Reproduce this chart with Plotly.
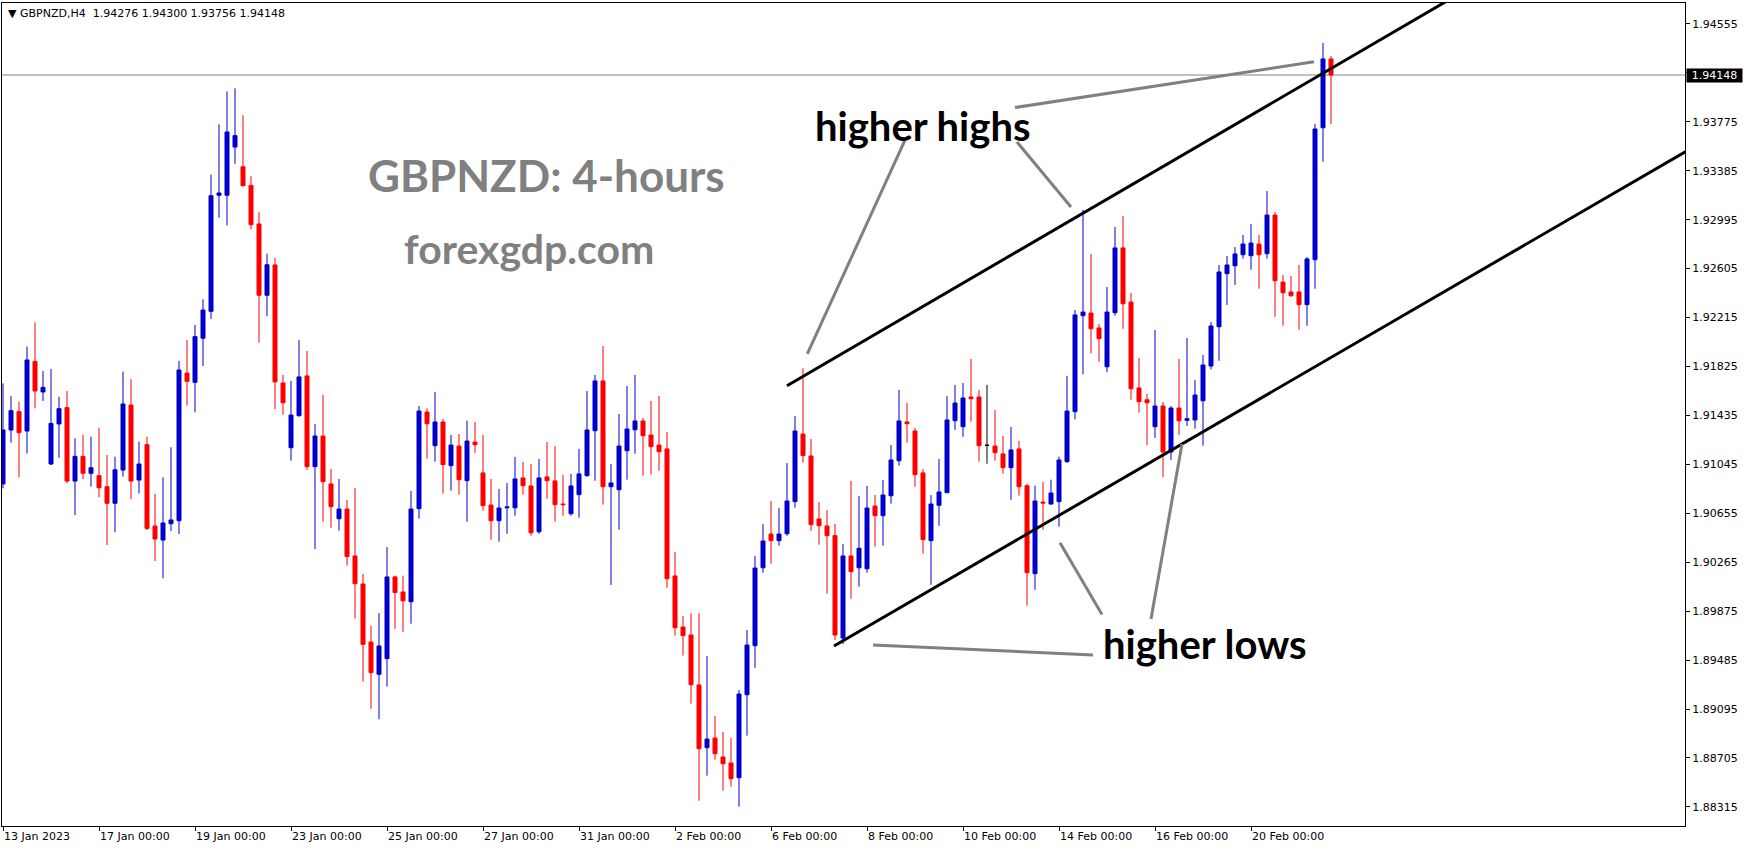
import plotly.graph_objects as go
import pandas as pd

symbol = "GBPNZD"
timeframe = "H4"

trading_days = [
    "2023-01-13", "2023-01-16", "2023-01-17", "2023-01-18", "2023-01-19", "2023-01-20",
    "2023-01-23", "2023-01-24", "2023-01-25", "2023-01-26", "2023-01-27",
    "2023-01-30", "2023-01-31", "2023-02-01", "2023-02-02", "2023-02-03",
    "2023-02-06", "2023-02-07", "2023-02-08", "2023-02-09", "2023-02-10",
    "2023-02-13", "2023-02-14", "2023-02-15", "2023-02-16", "2023-02-17",
    "2023-02-20", "2023-02-21",
]
bar_hours = [0, 4, 8, 12, 16, 20]

opens = [
    1.90889, 1.91319, 1.91465, 1.91311, 1.91866, 1.91622, 1.91048, 1.91367, 1.91497, 1.90912,
    1.91109, 1.90974, 1.90955, 1.90867, 1.90735, 1.91000, 1.91518, 1.90920, 1.91202, 1.90554,
    1.90442, 1.90572, 1.90596, 1.91773, 1.91699, 1.92050, 1.92265, 1.93190, 1.93190, 1.93574,
    1.93417, 1.93269, 1.92961, 1.92393, 1.92634, 1.91694, 1.91178, 1.91433, 1.91750, 1.91027,
    1.91271, 1.90889, 1.90612, 1.90689, 1.90315, 1.90092, 1.89629, 1.89372, 1.89497, 1.90148,
    1.90028, 1.89950, 1.90692, 1.91462, 1.91194, 1.91383, 1.91035, 1.91191, 1.90915, 1.91223,
    1.90977, 1.90721, 1.90596, 1.90699, 1.90699, 1.90937, 1.90873, 1.90508, 1.90945, 1.90913,
    1.90729, 1.90652, 1.90804, 1.90955, 1.91313, 1.91710, 1.90867, 1.90843, 1.91154, 1.91321,
    1.91391, 1.91279, 1.91199, 1.91168, 1.90156, 1.89749, 1.89685, 1.89287, 1.88787, 1.88864,
    1.88713, 1.88665, 1.88548, 1.89209, 1.89600, 1.90221, 1.90490, 1.90437, 1.90492, 1.90748,
    1.91287, 1.91112, 1.90610, 1.90554, 1.90477, 1.89661, 1.90315, 1.90221, 1.90213, 1.90713,
    1.90636, 1.90795, 1.91074, 1.91383, 1.91311, 1.90977, 1.90437, 1.90719, 1.90819, 1.91393,
    1.91345, 1.91582, 1.91582, 1.91197, 1.91191, 1.91128, 1.91019, 1.91168, 1.90875, 1.90174,
    1.90745, 1.90729, 1.90748, 1.91067, 1.91465, 1.92230, 1.92251, 1.92132, 1.91823, 1.92254,
    1.92770, 1.92339, 1.91654, 1.91560, 1.91345, 1.91510, 1.91144, 1.91494, 1.91396, 1.91399,
    1.91552, 1.91829, 1.92142, 1.92565, 1.92628, 1.92716, 1.92708, 1.92801, 1.92724, 1.93032,
    1.92498, 1.92419, 1.92419, 1.92318, 1.92676, 1.93728, 1.94276,
]
highs = [
    1.91691, 1.91590, 1.91545, 1.91983, 1.92177, 1.91789, 1.91805, 1.91584, 1.91630, 1.91253,
    1.91281, 1.91266, 1.91337, 1.91120, 1.91106, 1.91784, 1.91723, 1.91226, 1.91266, 1.90809,
    1.90942, 1.91181, 1.91869, 1.92036, 1.92156, 1.92361, 1.93354, 1.93755, 1.94018, 1.94042,
    1.93827, 1.93341, 1.93054, 1.92724, 1.92690, 1.91758, 1.91710, 1.92036, 1.91949, 1.91367,
    1.91598, 1.91009, 1.90929, 1.90761, 1.90857, 1.90172, 1.89759, 1.89860, 1.90386, 1.90158,
    1.90158, 1.90833, 1.91510, 1.91492, 1.91622, 1.91407, 1.91279, 1.91287, 1.91393, 1.91383,
    1.91279, 1.90929, 1.90849, 1.90897, 1.91104, 1.91064, 1.91049, 1.91088, 1.91223, 1.91191,
    1.90961, 1.90969, 1.91168, 1.91630, 1.91758, 1.91988, 1.91049, 1.91446, 1.91670, 1.91758,
    1.91415, 1.91550, 1.91590, 1.91303, 1.90347, 1.89836, 1.89860, 1.89860, 1.89518, 1.89040,
    1.88912, 1.88864, 1.89247, 1.89725, 1.90315, 1.90570, 1.90753, 1.90697, 1.91056, 1.91431,
    1.91811, 1.91247, 1.90745, 1.90681, 1.90570, 1.90410, 1.90913, 1.90793, 1.90873, 1.90801,
    1.90921, 1.91199, 1.91638, 1.91534, 1.91335, 1.91008, 1.90801, 1.91088, 1.91590, 1.91678,
    1.91694, 1.91885, 1.91638, 1.91678, 1.91478, 1.91271, 1.91343, 1.91231, 1.90891, 1.90875,
    1.90905, 1.90923, 1.91106, 1.91750, 1.92275, 1.93072, 1.92722, 1.92164, 1.92459, 1.92937,
    1.93025, 1.92411, 1.91893, 1.91608, 1.92116, 1.91542, 1.91510, 1.91885, 1.92052, 1.91717,
    1.91917, 1.92180, 1.92634, 1.92706, 1.92777, 1.92873, 1.92961, 1.92873, 1.93224, 1.93056,
    1.92554, 1.92546, 1.92634, 1.92698, 1.93758, 1.94403, 1.94300,
]
lows = [
    1.90854, 1.91218, 1.90942, 1.91133, 1.91492, 1.91550, 1.91040, 1.91098, 1.90894, 1.90641,
    1.90928, 1.90867, 1.90782, 1.90402, 1.90504, 1.90947, 1.90767, 1.90814, 1.90522, 1.90275,
    1.90137, 1.90514, 1.90490, 1.91513, 1.91460, 1.91829, 1.92204, 1.93011, 1.92950, 1.93441,
    1.93258, 1.92918, 1.92015, 1.92225, 1.91486, 1.91441, 1.91075, 1.91425, 1.91001, 1.90370,
    1.90588, 1.90540, 1.90516, 1.90238, 1.89815, 1.89313, 1.89098, 1.89013, 1.89274, 1.89735,
    1.89711, 1.89775, 1.90612, 1.91091, 1.91067, 1.90812, 1.90836, 1.90804, 1.90588, 1.91138,
    1.90676, 1.90445, 1.90429, 1.90492, 1.90636, 1.90804, 1.90476, 1.90492, 1.90771, 1.90588,
    1.90636, 1.90636, 1.90620, 1.90947, 1.90915, 1.90724, 1.90084, 1.90524, 1.90923, 1.91130,
    1.90955, 1.90963, 1.90995, 1.90062, 1.89680, 1.89521, 1.89138, 1.88364, 1.88564, 1.88691,
    1.88444, 1.88476, 1.88317, 1.88883, 1.89424, 1.90182, 1.90254, 1.90397, 1.90476, 1.90700,
    1.91059, 1.90516, 1.90405, 1.90014, 1.89645, 1.89613, 1.89974, 1.90070, 1.90182, 1.90389,
    1.90397, 1.90732, 1.91034, 1.91218, 1.90867, 1.90333, 1.90086, 1.90556, 1.90819, 1.91321,
    1.91265, 1.91385, 1.91067, 1.91050, 1.91075, 1.90971, 1.90763, 1.90796, 1.89919, 1.90046,
    1.90524, 1.90724, 1.90548, 1.91056, 1.91404, 1.91763, 1.91930, 1.91863, 1.91779, 1.92230,
    1.92126, 1.91560, 1.91457, 1.91199, 1.91257, 1.90944, 1.91080, 1.91279, 1.91351, 1.91329,
    1.91194, 1.91803, 1.91871, 1.92315, 1.92475, 1.92684, 1.92597, 1.92445, 1.92684, 1.92222,
    1.92150, 1.92381, 1.92118, 1.92150, 1.92445, 1.93457, 1.93756,
]
closes = [
    1.91319, 1.91473, 1.91297, 1.91877, 1.91630, 1.91659, 1.91372, 1.91489, 1.90912, 1.91109,
    1.90974, 1.91018, 1.90859, 1.90735, 1.91002, 1.91526, 1.90912, 1.91048, 1.90535, 1.90450,
    1.90578, 1.90602, 1.91797, 1.91707, 1.92063, 1.92275, 1.93186, 1.93208, 1.93694, 1.93665,
    1.93266, 1.92955, 1.92393, 1.92636, 1.91702, 1.91536, 1.91438, 1.91742, 1.91027, 1.91271,
    1.90907, 1.90708, 1.90689, 1.90310, 1.90094, 1.89611, 1.89385, 1.89598, 1.90148, 1.90023,
    1.89958, 1.90689, 1.91470, 1.91369, 1.91383, 1.91043, 1.91199, 1.90923, 1.91231, 1.91202,
    1.90716, 1.90596, 1.90697, 1.90705, 1.90929, 1.90875, 1.90500, 1.90937, 1.90915, 1.90724,
    1.90724, 1.90873, 1.90969, 1.91319, 1.91710, 1.90867, 1.90897, 1.91191, 1.91327, 1.91391,
    1.91273, 1.91186, 1.91146, 1.90134, 1.89743, 1.89680, 1.89289, 1.88779, 1.88856, 1.88739,
    1.88659, 1.88540, 1.89215, 1.89605, 1.90219, 1.90434, 1.90437, 1.90490, 1.90753, 1.91311,
    1.91115, 1.90564, 1.90556, 1.90477, 1.89685, 1.90315, 1.90190, 1.90376, 1.90697, 1.90636,
    1.90801, 1.91080, 1.91391, 1.91369, 1.90963, 1.90445, 1.90729, 1.90825, 1.91399, 1.91534,
    1.91574, 1.91568, 1.91194, 1.91197, 1.91138, 1.91019, 1.91160, 1.90867, 1.90182, 1.90753,
    1.90737, 1.90817, 1.91080, 1.91470, 1.92236, 1.92259, 1.92126, 1.92047, 1.92259, 1.92770,
    1.92325, 1.91648, 1.91544, 1.91536, 1.91510, 1.91144, 1.91494, 1.91393, 1.91409, 1.91598,
    1.91837, 1.92148, 1.92578, 1.92634, 1.92722, 1.92801, 1.92809, 1.92716, 1.93032, 1.92509,
    1.92413, 1.92389, 1.92318, 1.92682, 1.93718, 1.94276, 1.94148,
]

tick_dates = ["2023-01-13", "2023-01-17", "2023-01-19", "2023-01-23", "2023-01-25",
              "2023-01-27", "2023-01-31", "2023-02-02", "2023-02-06", "2023-02-08",
              "2023-02-10", "2023-02-14", "2023-02-16", "2023-02-20"]
price_ticks_start = 1.88315
price_ticks_step = 0.0039

# hand-drawn objects (time, price)
upper_channel_t = ["2023-02-06 08:00", "2023-02-24 04:00"]
upper_channel_p = [1.91672, 1.94757]
lower_channel_t = ["2023-02-07 07:30", "2023-03-03 01:30"]
lower_channel_p = [1.89597, 1.93540]
hh_left_t = ["2023-02-08 19:00", "2023-02-06 18:10"]
hh_left_p = [1.93630, 1.91925]
hh_mid_t = ["2023-02-13 03:00", "2023-02-14 06:00"]
hh_mid_p = [1.93614, 1.93096]
hh_right_t = ["2023-02-13 02:00", "2023-02-21 07:30"]
hh_right_p = [1.93889, 1.94254]
hl_mid_t = ["2023-02-14 00:30", "2023-02-14 21:30"]
hl_mid_p = [1.90421, 1.89848]
hl_right_t = ["2023-02-16 13:30", "2023-02-15 22:00"]
hl_right_p = [1.91207, 1.89812]
hl_left_t = ["2023-02-08 03:00", "2023-02-14 17:00"]
hl_left_p = [1.89605, 1.89526]

n = len(opens)
times = [pd.Timestamp(d) + pd.Timedelta(hours=h) for d in trading_days for h in bar_hours][:n]
df = pd.DataFrame({"t": times, "o": opens, "h": highs, "l": lows, "c": closes})
main = df[df.o != df.c]
doji = df[df.o == df.c]

BLUE = "#0000CC"
RED = "#FF0000"
AXFONT = dict(family="DejaVu Sans", size=11, color="black")

fig = go.Figure()
fig.add_trace(go.Candlestick(
    x=main.t, open=main.o, high=main.h, low=main.l, close=main.c,
    increasing=dict(line=dict(color=BLUE, width=1), fillcolor=BLUE),
    decreasing=dict(line=dict(color=RED, width=1), fillcolor=RED),
    hoverinfo="skip", showlegend=False,
))
fig.add_trace(go.Candlestick(
    x=doji.t, open=doji.o, high=doji.h, low=doji.l, close=doji.c,
    increasing=dict(line=dict(color="black", width=1), fillcolor="black"),
    decreasing=dict(line=dict(color="black", width=1), fillcolor="black"),
    hoverinfo="skip", showlegend=False,
))

def add_line(ts, ps, color, width):
    fig.add_trace(go.Scatter(x=pd.to_datetime(ts), y=ps, mode="lines",
                             line=dict(color=color, width=width),
                             hoverinfo="skip", showlegend=False))

add_line(upper_channel_t, upper_channel_p, "black", 3)
add_line(lower_channel_t, lower_channel_p, "black", 3)
GRAY = "#808080"
for ts, ps in [(hh_left_t, hh_left_p), (hh_mid_t, hh_mid_p), (hh_right_t, hh_right_p),
               (hl_mid_t, hl_mid_p), (hl_right_t, hl_right_p), (hl_left_t, hl_left_p)]:
    add_line(ts, ps, GRAY, 3)

last_close = closes[-1]
fig.add_shape(type="line", xref="paper", x0=0, x1=1, yref="y", y0=last_close, y1=last_close,
              line=dict(color="#778899", width=1), layer="below")

tick_ts = pd.to_datetime(tick_dates)
tick_text = [d.strftime("%-d %b %Y") if i == 0 else d.strftime("%-d %b %H:%M")
             for i, d in enumerate(tick_ts)]
n_ticks = 17
price_tickvals = [round(price_ticks_start + k * price_ticks_step, 5) for k in range(n_ticks)]

fig.update_layout(
    width=1749, height=850,
    margin=dict(l=2, r=64, t=3, b=24),
    paper_bgcolor="white", plot_bgcolor="white",
    boxgap=0.5, boxgroupgap=0,
    showlegend=False,
    xaxis=dict(
        type="date",
        rangebreaks=[dict(bounds=["sat", "mon"])],
        range=[pd.Timestamp("2023-01-12 23:30"), pd.Timestamp("2023-03-03 01:00")],
        rangeslider=dict(visible=False),
        tickvals=tick_ts, ticktext=tick_text,
        ticks="outside", ticklen=4, tickcolor="black",
        ticklabelposition="outside right",
        showline=True, linecolor="black", linewidth=1, mirror=True,
        showgrid=False, zeroline=False, tickfont=AXFONT,
    ),
    yaxis=dict(
        side="right",
        range=[1.88163, 1.94722],
        tickvals=price_tickvals, tickformat=".5f",
        ticks="outside", ticklen=4, tickcolor="black",
        showline=True, linecolor="black", linewidth=1, mirror=True,
        showgrid=False, zeroline=False, tickfont=AXFONT,
    ),
)

o, h, l, c = opens[-1], highs[-1], lows[-1], closes[-1]
header = f"\u25BC {symbol},{timeframe}  {o:.5f} {h:.5f} {l:.5f} {c:.5f}"
fig.add_annotation(xref="paper", yref="paper", x=0, y=1, xanchor="left", yanchor="middle",
                   xshift=4, yshift=-10, text=header, showarrow=False, font=AXFONT)
fig.add_annotation(xref="paper", yref="y", x=1, y=last_close, xanchor="left", yanchor="middle",
                   xshift=1, text=f"{last_close:.5f}", showarrow=False,
                   bgcolor="black", font=dict(family="DejaVu Sans", size=11, color="white"),
                   width=55, height=13, borderpad=0)

TFONT = "Lato"
labels = [
    ("<b>GBPNZD: 4-hours</b>", 0.3236, 0.791, 44, "#808080"),
    ("<b>forexgdp.com</b>", 0.313, 0.7015, 41, "#808080"),
    ("<b>higher highs</b>", 0.5473, 0.851, 40, "black"),
    ("<b>higher lows</b>", 0.7146, 0.2216, 40, "black"),
]
for txt, px, py, size, col in labels:
    fig.add_annotation(xref="paper", yref="paper", x=px, y=py, xanchor="center", yanchor="middle",
                       text=txt, showarrow=False, font=dict(family=TFONT, size=size, color=col))

fig.write_html("out.html", config={"displayModeBar": False},
               post_script="document.body.style.margin='0';")
